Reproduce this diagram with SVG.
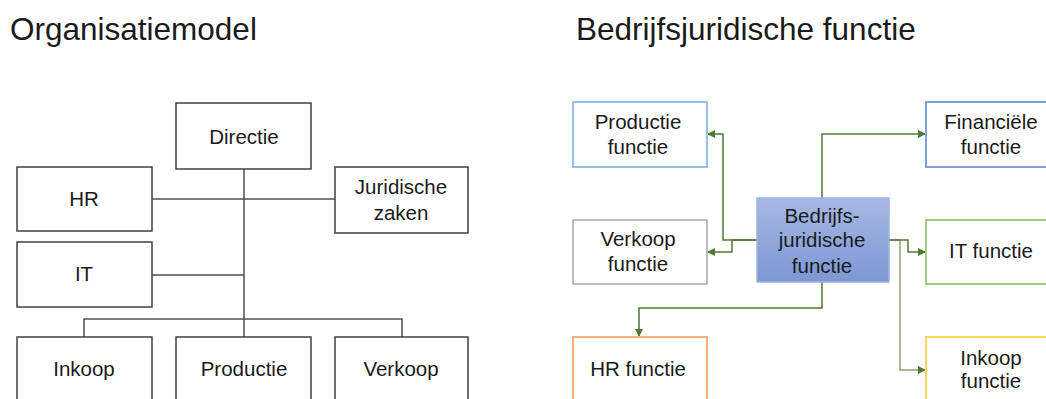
<svg xmlns="http://www.w3.org/2000/svg" width="1046" height="399" viewBox="0 0 1046 399">
<style>
text{font-family:"Liberation Sans",Arial,sans-serif;fill:#1a1a1a;text-anchor:middle;font-size:20.5px}
.title{font-size:31.5px;text-anchor:start}
.org rect{fill:#fff;stroke:#404040;stroke-width:1.5}
.org-lines path{fill:none;stroke:#505050;stroke-width:1.5}
.fn rect{fill:#fff;stroke-width:2}
.conn path{fill:none;stroke:#4e7a30;stroke-width:1.5}
</style>
<defs>
<linearGradient id="bg" x1="0" y1="0" x2="0" y2="1">
<stop offset="0" stop-color="#a7b8e3"/>
<stop offset="1" stop-color="#7d97d4"/>
</linearGradient>
<marker id="ar" viewBox="0 0 10 10" refX="10" refY="5" markerWidth="8" markerHeight="8" markerUnits="userSpaceOnUse" orient="auto">
<path d="M0,0 L10,5 L0,10 z" fill="#4e7a30"/>
</marker>
</defs>
<rect width="1046" height="399" fill="#fff"/>
<text class="title" x="10" y="40">Organisatiemodel</text>
<text class="title" x="576" y="40">Bedrijfsjuridische functie</text>

<g class="org-lines" id="org-connectors">
<path d="M244,169 V337"/>
<path d="M152,199 H335"/>
<path d="M152,275 H244"/>
<path d="M84,337 V319 H402 V337"/>
</g>
<g class="org" id="directie"><rect x="176" y="103" width="135" height="66"/><text x="244" y="144">Directie</text></g>
<g class="org" id="hr"><rect x="17" y="167" width="135" height="64"/><text x="84" y="206">HR</text></g>
<g class="org" id="juridische-zaken"><rect x="335" y="167" width="133" height="66"/><text x="401" y="194">Juridische</text><text x="401" y="220">zaken</text></g>
<g class="org" id="it"><rect x="17" y="242" width="135" height="65"/><text x="84" y="281">IT</text></g>
<g class="org" id="inkoop"><rect x="17" y="337" width="135" height="80"/><text x="84" y="376">Inkoop</text></g>
<g class="org" id="productie"><rect x="176" y="337" width="135" height="80"/><text x="244" y="376">Productie</text></g>
<g class="org" id="verkoop"><rect x="335" y="337" width="133" height="80"/><text x="401" y="376">Verkoop</text></g>

<g class="conn" id="fn-connectors">
<path d="M757,240 H723 V134 H707" marker-end="url(#ar)"/>
<path d="M757,240 H732 V252 H707" marker-end="url(#ar)"/>
<path d="M822,198 V134 H926" marker-end="url(#ar)"/>
<path d="M889,240 H908 V252 H926" marker-end="url(#ar)"/>
<path d="M889,240 H900 V370 H926" marker-end="url(#ar)" stroke-opacity="0.7"/>
<path d="M822,282 V308 H639 V337" marker-end="url(#ar)"/>
</g>
<g class="fn" id="productie-functie"><rect x="573" y="102" width="134" height="65" stroke="#95bfe8"/><text x="638" y="129">Productie</text><text x="638" y="154">functie</text></g>
<g class="fn" id="financiele-functie"><rect x="926" y="102" width="134" height="65" stroke="#7f9fdb"/><text x="991" y="129">Financiële</text><text x="991" y="154">functie</text></g>
<g class="fn" id="verkoop-functie"><rect x="573" y="220" width="134" height="64" stroke="#bdbdbd"/><text x="638" y="246">Verkoop</text><text x="638" y="271">functie</text></g>
<g id="bedrijfsjuridische-functie"><rect x="757" y="198" width="132" height="84" fill="url(#bg)" stroke="#9fb3e3" stroke-width="1.5"/><text x="822" y="223">Bedrijfs-</text><text x="822" y="247">juridische</text><text x="822" y="273">functie</text></g>
<g class="fn" id="it-functie"><rect x="926" y="220" width="134" height="64" stroke="#a0cd84"/><text x="991" y="258">IT functie</text></g>
<g class="fn" id="hr-functie"><rect x="573" y="337" width="134" height="80" stroke="#f4ad7a"/><text x="638" y="376">HR functie</text></g>
<g class="fn" id="inkoop-functie"><rect x="926" y="337" width="134" height="80" stroke="#ffd75e"/><text x="991" y="365">Inkoop</text><text x="991" y="388">functie</text></g>
</svg>
